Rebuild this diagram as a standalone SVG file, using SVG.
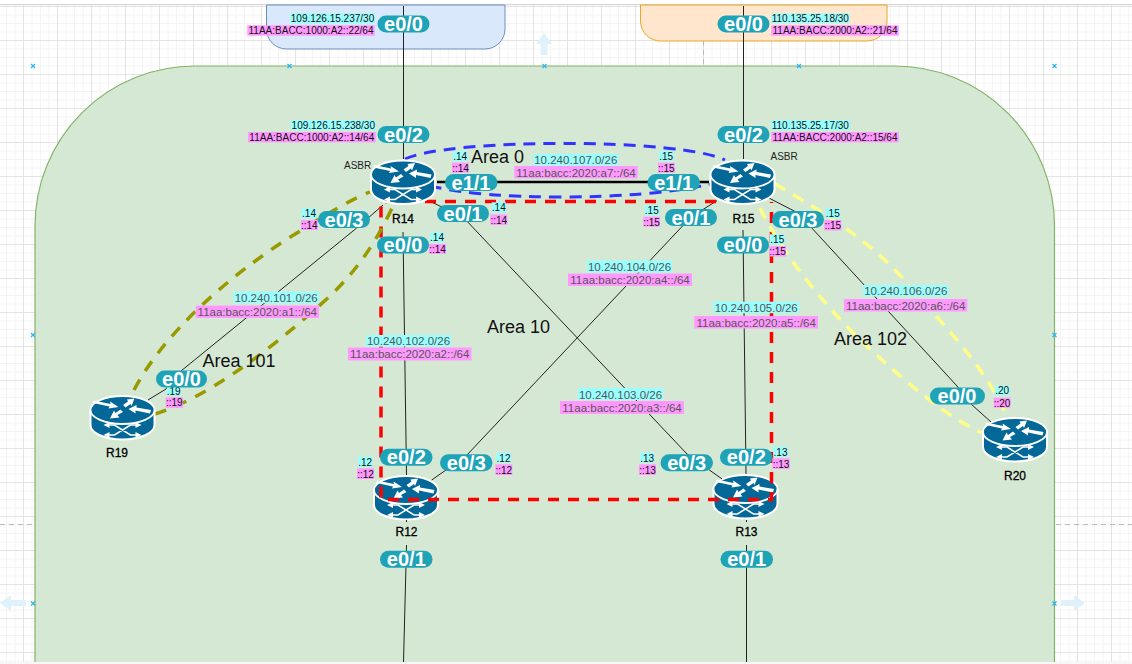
<svg xmlns="http://www.w3.org/2000/svg" width="1132" height="664" viewBox="0 0 1132 664">
<style>
text{font-family:"Liberation Sans",Arial,sans-serif}
.pill{fill:#1fa3b7}
.pt{fill:#fff;font-size:20px;font-weight:bold;text-anchor:middle}
.c{fill:#99ffff}.p{fill:#ff99ff}
.s{font-size:10px;text-anchor:middle;fill:#111}
.n{font-size:11.5px;text-anchor:middle;fill:#555}
.name{font-size:12px;text-anchor:middle;fill:#000;stroke:#000;stroke-width:.3}
.asbr{font-size:10px;fill:#222}
.area{font-size:18px;fill:#111}
.thin{fill:none;stroke:#222;stroke-width:1}
.blue{fill:none;stroke:#3333ff;stroke-width:3;stroke-dasharray:12 8}
.red{fill:none;stroke:#ff0000;stroke-width:3.5;stroke-dasharray:11 9}
.olive{fill:none;stroke:#999900;stroke-width:3.5;stroke-dasharray:12 10}
.yellow{fill:none;stroke:#ffff88;stroke-width:3.5;stroke-dasharray:12 9}
.x{stroke:#29b6f2;stroke-width:1.2;fill:none}
.ghost{fill:#dff1fb}
</style>
<defs>
<pattern id="grid" patternUnits="userSpaceOnUse" x="23" y="6" width="34" height="34">
<path d="M9,0V34M17.500,0V34M26,0V34M0,9H34M0,17.500H34M0,26H34" stroke="#f4f4f4" stroke-width="1" fill="none"/>
<path d="M.5,0V34M0,.5H34" stroke="#e3e3e3" stroke-width="1" fill="none"/>
</pattern>
<g id="router">
<path d="M1,15V30C1,38 15,44.500 33,44.500S65,38 65,30V15Z" fill="#036897" stroke="#fff" stroke-width="2"/>
<ellipse cx="33" cy="15" rx="32" ry="14" fill="#036897" stroke="#fff" stroke-width="1.800"/>
<path fill="#fff" d="M4,5.500L21,9L20.500,6.500L29,12L19,13.500L20,11.500L3.500,8ZM45,3.500L37.500,4.500L38.500,6.500L33.500,10L36,12.500L41,9L42,11ZM39,14L47,10L47,12.500L61.500,15L60.500,18.500L46,15.500L46,18.500ZM20.500,23.500L30,22.500L28,20L33.500,17L31,14.500L26,18L24.500,15.500Z"/>
<path d="M18,30H25L41,40H48M48,30H41L25,40H18" fill="none" stroke="#fff" stroke-width="1.500"/>
<path fill="#fff" d="M14,30L20,27V33ZM14,40L20,37V43ZM52,30L46,27V33ZM52,40L46,37V43Z"/>
</g>
</defs>

<g id="canvas">
<rect width="1132" height="664" fill="#fff"/>
<rect y="5" width="1132" height="657" fill="url(#grid)"/>
<rect x="0" y="4" width="1132" height="1.200" fill="#d6d6d6"/>
<path d="M1056,524.500H1132M0,524.500H35M703.500,41V66" stroke="#bbb" stroke-dasharray="5 4" fill="none"/>
<path d="M266.500,5V29A20,20 0 0 0 286.500,49H485A20,20 0 0 0 505,29V5Z" fill="#dae8fc" stroke="#6c8ebf"/>
<path d="M640.500,5V21A20,20 0 0 0 660.500,41H867A20,20 0 0 0 887,21V5Z" fill="#ffe6cc" stroke="#e6a82a"/>
<rect x="35" y="66" width="1019.500" height="1000" rx="160" ry="160" fill="#d5e8d4" stroke="#82b366" stroke-width="1.200"/>
<path class="ghost" d="M544,33L552,44H547.500V55H540.500V44H536ZM0,603L11,595V600H26V606H11V611ZM1085,603L1074,595V600H1061V606H1074V611Z"/>
<path class="x" d="M31,64L35,68M35,64L31,68M287.500,64L291.500,68M291.500,64L287.500,68M542.500,64L546.500,68M546.500,64L542.500,68M797,64L801,68M801,64L797,68M1052.500,64L1056.500,68M1056.500,64L1052.500,68M31,333L35,337M35,333L31,337M1052.500,333L1056.500,337M1056.500,333L1052.500,337M31,601.500L35,605.500M35,601.500L31,605.500M1052.500,601.500L1056.500,605.500M1056.500,601.500L1052.500,605.500"/>
</g>

<g id="R12"><use href="#router" x="373" y="475"/><text class="name" x="406.500" y="536">R12</text></g>
<g id="R13"><use href="#router" x="712.500" y="474"/><text class="name" x="746.500" y="536">R13</text></g>

<g id="connectors">
<path class="thin" d="M403.500,6V159"/>
<path class="thin" d="M743.500,6V159"/>
<path class="thin" d="M403,232L406.500,475"/>
<path class="thin" d="M743,230L746,474"/>
<path class="thin" d="M406.500,520V522M406.500,545L403.500,662"/>
<path class="thin" d="M746.500,520V522M746.500,545V662"/>
<path class="thin" d="M383,205L356.700,228L181,371L166,389L148,400"/>
<path class="thin" d="M425,199L463,217L687,454L722,479"/>
<path class="thin" d="M717,200.700L691,217L466,456L431.700,480"/>
<path class="thin" d="M765,196L798,213L957,386L971,404L991,422"/>
<path d="M437,182H709" stroke="#000" stroke-width="2.500" fill="none"/>
<path class="blue" d="M405,159C450,138 680,138 725,160"/>
<path class="blue" d="M430,186Q480,197 560,197Q650,197 712,184"/>
<path class="red" d="M716,201.500H381V499.500H771.500V202"/>
<path class="olive" d="M134,390C160,340 220,280 300,231C330,212 350,200 370,192"/>
<path class="olive" d="M155,414C200,400 260,360 330,296C355,272 375,245 392,208"/>
<path class="yellow" d="M760,208C780,250 830,315 880,358C915,390 950,418 982,433"/>
<path class="yellow" d="M775,184C820,210 870,240 907,283C940,322 985,365 1007,417"/>
</g>

<g id="R14"><use href="#router" x="370" y="159.500"/><text class="name" x="403" y="223">R14</text><text class="asbr" x="344" y="169">ASBR</text></g>
<g id="R15"><use href="#router" x="709.500" y="159.500"/><text class="name" x="743.500" y="223">R15</text><text class="asbr" x="770.500" y="160">ASBR</text></g>
<g id="R19"><use href="#router" x="89.500" y="395"/><text class="name" x="117" y="457">R19</text></g>
<g id="R20"><use href="#router" x="982" y="417"/><text class="name" x="1015" y="480">R20</text></g>

<g id="areas">
<text class="area" x="471" y="163">Area 0</text>
<text class="area" x="487" y="333">Area 10</text>
<text class="area" x="202.500" y="367">Area 101</text>
<text class="area" x="834" y="345">Area 102</text>
</g>

<g id="network-labels">
<rect class="c" x="533.300" y="154" width="85" height="11.500"/><text class="n" x="575.800" y="164">10.240.107.0/26</text>
<rect class="p" x="514.300" y="166" width="123.400" height="12.500"/><text class="n" x="576" y="176.500">11aa:bacc:2020:a7::/64</text>
<rect class="c" x="587" y="260.500" width="85" height="12"/><text class="n" x="629.500" y="271">10.240.104.0/26</text>
<rect class="p" x="568" y="273.500" width="124" height="12.500"/><text class="n" x="630" y="284">11aa:bacc:2020:a4::/64</text>
<rect class="c" x="233.300" y="291.700" width="85.700" height="11.500"/><text class="n" x="276.200" y="302">10.240.101.0/26</text>
<rect class="p" x="195.700" y="305.500" width="123.300" height="12.500"/><text class="n" x="257.300" y="316">11aa:bacc:2020:a1::/64</text>
<rect class="c" x="366" y="335" width="85" height="11.500"/><text class="n" x="408.500" y="345">10.240.102.0/26</text>
<rect class="p" x="348" y="347.500" width="123.500" height="13"/><text class="n" x="409.700" y="358">11aa:bacc:2020:a2::/64</text>
<rect class="c" x="578" y="388" width="85" height="12"/><text class="n" x="620.500" y="398.500">10.240.103.0/26</text>
<rect class="p" x="560" y="401" width="124" height="13"/><text class="n" x="622" y="411.500">11aa:bacc:2020:a3::/64</text>
<rect class="c" x="713.300" y="301.700" width="85.700" height="11.500"/><text class="n" x="756.200" y="312">10.240.105.0/26</text>
<rect class="p" x="694.300" y="316" width="123.700" height="12.500"/><text class="n" x="756.200" y="326.500">11aa:bacc:2020:a5::/64</text>
<rect class="c" x="863" y="285" width="85.700" height="11.500"/><text class="n" x="905.800" y="295">10.240.106.0/26</text>
<rect class="p" x="844" y="299" width="123.300" height="12.500"/><text class="n" x="905.700" y="309.500">11aa:bacc:2020:a6::/64</text>
</g>

<g id="wan-labels">
<rect class="c" x="290.300" y="13.300" width="84.400" height="10.200"/><text class="s" x="332.500" y="22.300">109.126.15.237/30</text>
<rect class="p" x="247.300" y="25.300" width="127.400" height="10.400"/><text class="s" x="311" y="34.300">11AA:BACC:1000:A2::22/64</text>
<rect class="c" x="291" y="120" width="84.700" height="10.200"/><text class="s" x="333.300" y="129">109.126.15.238/30</text>
<rect class="p" x="248" y="132" width="127.700" height="10.400"/><text class="s" x="311.800" y="141">11AA:BACC:1000:A2::14/64</text>
<rect class="c" x="771.300" y="13.300" width="78" height="10.200"/><text class="s" x="810.300" y="22.300">110.135.25.18/30</text>
<rect class="p" x="771.300" y="25.300" width="127.400" height="10.400"/><text class="s" x="835" y="34.300">11AA:BACC:2000:A2::21/64</text>
<rect class="c" x="771.300" y="120" width="78" height="10.200"/><text class="s" x="810.300" y="129">110.135.25.17/30</text>
<rect class="p" x="771.300" y="132" width="127.400" height="10.400"/><text class="s" x="835" y="141">11AA:BACC:2000:A2::15/64</text>
</g>

<g id="host-labels">
<rect class="c" x="453" y="151" width="14.300" height="10"/><text class="s" x="460.100" y="160">.14</text>
<rect class="p" x="452" y="162.700" width="17" height="10"/><text class="s" x="460.500" y="171.500">::14</text>
<rect class="c" x="301.700" y="208.300" width="14.600" height="10"/><text class="s" x="309" y="217.300">.14</text>
<rect class="p" x="301" y="220" width="16.700" height="10"/><text class="s" x="309.300" y="229">::14</text>
<rect class="c" x="491.700" y="202.300" width="14.300" height="10"/><text class="s" x="498.800" y="211.300">.14</text>
<rect class="p" x="490.300" y="214.500" width="17" height="10.500"/><text class="s" x="498.800" y="223.500">::14</text>
<rect class="c" x="430" y="232.300" width="14" height="10"/><text class="s" x="437" y="241.300">.14</text>
<rect class="p" x="429" y="244" width="17" height="10"/><text class="s" x="437.500" y="253">::14</text>
<rect class="c" x="659" y="151" width="14.300" height="10"/><text class="s" x="666.100" y="160">.15</text>
<rect class="p" x="658" y="162.700" width="16.700" height="10"/><text class="s" x="666.300" y="171.500">::15</text>
<rect class="c" x="644.700" y="205" width="14.300" height="10"/><text class="s" x="651.800" y="214">.15</text>
<rect class="p" x="643.300" y="216.700" width="16.700" height="10"/><text class="s" x="651.600" y="225.700">::15</text>
<rect class="c" x="825.700" y="208.300" width="14.300" height="10"/><text class="s" x="832.800" y="217.300">.15</text>
<rect class="p" x="824.300" y="220" width="17" height="10.500"/><text class="s" x="832.800" y="229">::15</text>
<rect class="c" x="770" y="234.300" width="14.700" height="10"/><text class="s" x="777.300" y="243.300">.15</text>
<rect class="p" x="769.300" y="246" width="16.700" height="10.500"/><text class="s" x="777.600" y="255">::15</text>
<rect class="c" x="166.700" y="386" width="14" height="9.500"/><text class="s" x="173.700" y="394.500">.19</text>
<rect class="p" x="165.700" y="397.300" width="17.300" height="10.500"/><text class="s" x="174.300" y="406.300">::19</text>
<rect class="c" x="995" y="385.700" width="14.300" height="9.500"/><text class="s" x="1002.100" y="394.200">.20</text>
<rect class="p" x="993.700" y="397.700" width="16.700" height="10"/><text class="s" x="1002" y="406.500">::20</text>
<rect class="c" x="358" y="456.700" width="14.300" height="10"/><text class="s" x="365.100" y="465.700">.12</text>
<rect class="p" x="357" y="468.300" width="17" height="10.700"/><text class="s" x="365.500" y="477.500">::12</text>
<rect class="c" x="496.300" y="452.700" width="14.400" height="9.800"/><text class="s" x="503.500" y="461.500">.12</text>
<rect class="p" x="495.300" y="464.300" width="17" height="10.700"/><text class="s" x="503.800" y="473.500">::12</text>
<rect class="c" x="640" y="452.700" width="14.300" height="9.800"/><text class="s" x="647.100" y="461.500">.13</text>
<rect class="p" x="639" y="464.300" width="17" height="10.700"/><text class="s" x="647.500" y="473.500">::13</text>
<rect class="c" x="773.300" y="446.700" width="14.400" height="10"/><text class="s" x="780.500" y="455.700">.13</text>
<rect class="p" x="772.300" y="458.300" width="17.400" height="10.700"/><text class="s" x="781" y="467.500">::13</text>
</g>

<g id="interfaces">
<rect class="pill" x="377.500" y="15.500" width="52" height="17" rx="8.500"/><text class="pt" x="403.500" y="31">e0/0</text>
<rect class="pill" x="377.500" y="126" width="52" height="17" rx="8.500"/><text class="pt" x="403.500" y="141.500">e0/2</text>
<rect class="pill" x="445" y="174" width="52.500" height="17" rx="8.500"/><text class="pt" x="471" y="189.500">e1/1</text>
<rect class="pill" x="437" y="205" width="52" height="17" rx="8.500"/><text class="pt" x="463" y="220.500">e0/1</text>
<rect class="pill" x="318" y="211" width="52" height="17" rx="8.500"/><text class="pt" x="344" y="226.500">e0/3</text>
<rect class="pill" x="377" y="236.500" width="52" height="17" rx="8.500"/><text class="pt" x="403" y="252">e0/0</text>
<rect class="pill" x="717.500" y="15.500" width="52" height="17" rx="8.500"/><text class="pt" x="743.500" y="31">e0/0</text>
<rect class="pill" x="717.500" y="126" width="52" height="17" rx="8.500"/><text class="pt" x="743.500" y="141.500">e0/2</text>
<rect class="pill" x="647.500" y="174" width="52.500" height="17" rx="8.500"/><text class="pt" x="673.700" y="189.500">e1/1</text>
<rect class="pill" x="665" y="209" width="52" height="17" rx="8.500"/><text class="pt" x="691" y="224.500">e0/1</text>
<rect class="pill" x="772" y="211" width="52" height="17" rx="8.500"/><text class="pt" x="798" y="226.500">e0/3</text>
<rect class="pill" x="717" y="236.500" width="52" height="17" rx="8.500"/><text class="pt" x="743" y="252">e0/0</text>
<rect class="pill" x="156" y="370.500" width="51" height="17" rx="8.500"/><text class="pt" x="181.500" y="386">e0/0</text>
<rect class="pill" x="930" y="387.500" width="55" height="17" rx="8.500"/><text class="pt" x="957" y="403">e0/0</text>
<rect class="pill" x="380" y="448.700" width="52.500" height="17" rx="8.500"/><text class="pt" x="406.300" y="464.200">e0/2</text>
<rect class="pill" x="440" y="454.300" width="52.500" height="17" rx="8.500"/><text class="pt" x="466.300" y="469.800">e0/3</text>
<rect class="pill" x="380" y="550.700" width="52.500" height="17" rx="8.500"/><text class="pt" x="406.300" y="566.200">e0/1</text>
<rect class="pill" x="660.500" y="454.300" width="52.500" height="17" rx="8.500"/><text class="pt" x="686.700" y="469.800">e0/3</text>
<rect class="pill" x="720" y="448.700" width="52.500" height="17" rx="8.500"/><text class="pt" x="746.300" y="464.200">e0/2</text>
<rect class="pill" x="720.500" y="550.700" width="52.500" height="17" rx="8.500"/><text class="pt" x="746.700" y="566.200">e0/1</text>
</g>

<rect y="662" width="1132" height="2" fill="#f7f7f7"/>
</svg>
